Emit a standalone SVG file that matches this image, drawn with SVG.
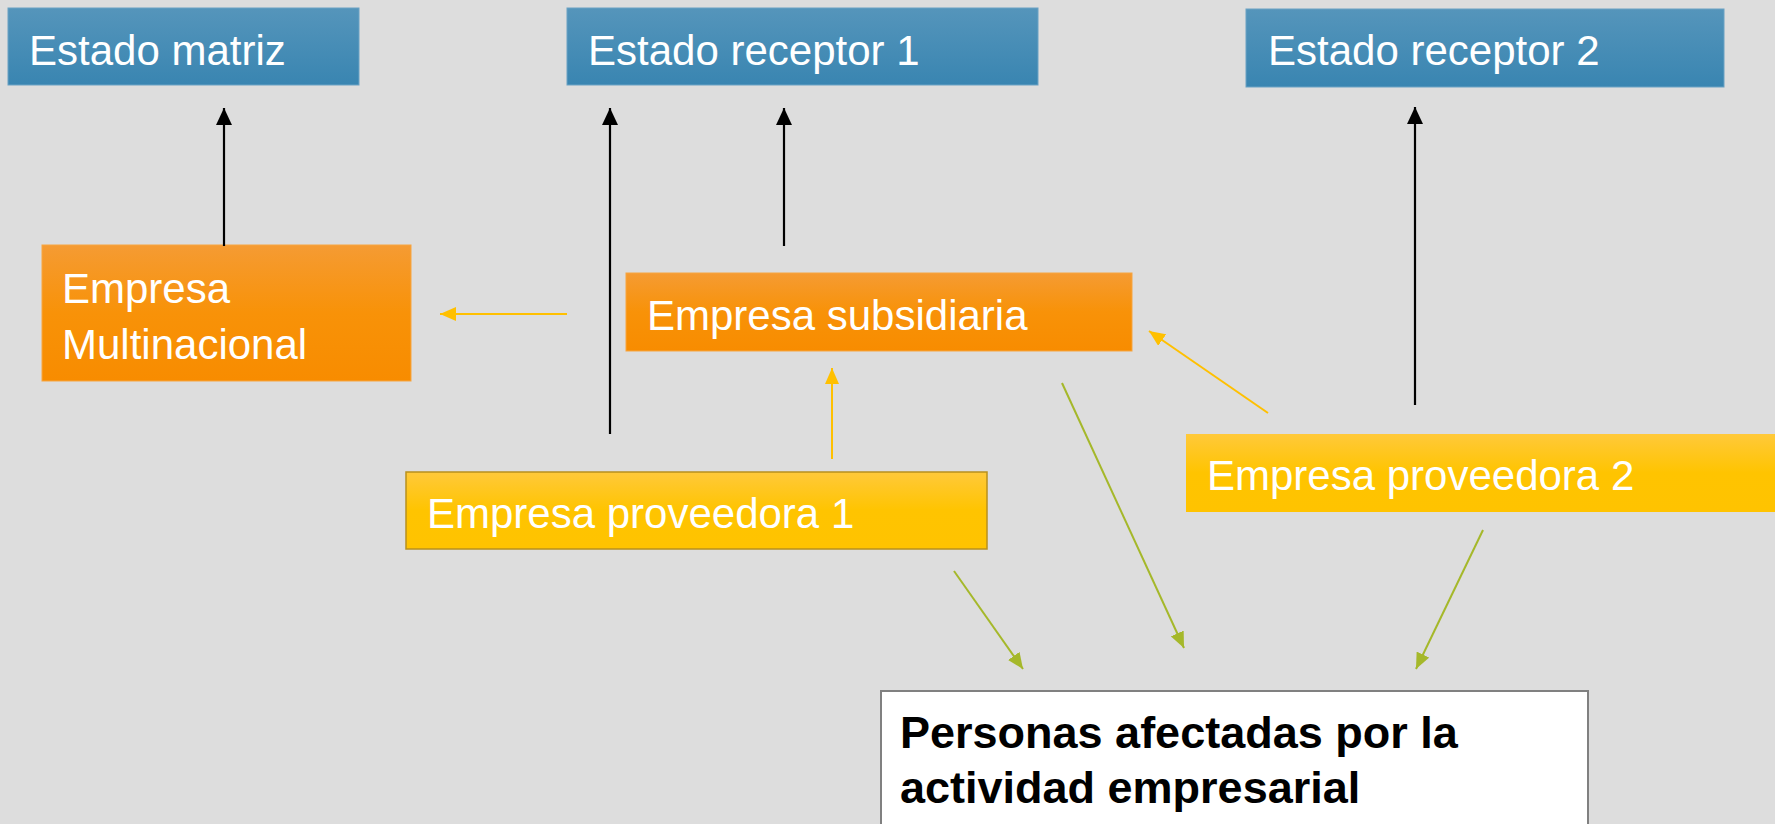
<svg xmlns="http://www.w3.org/2000/svg" width="1775" height="824" viewBox="0 0 1775 824">
<style>
.t{font-family:"Liberation Sans",Arial,sans-serif;font-size:42px;fill:#ffffff}
.b{font-family:"Liberation Sans",Arial,sans-serif;font-size:45px;font-weight:bold;fill:#000000}
.k{stroke:#000000;stroke-width:2.2;fill:none}
.y{stroke:#ffc000;stroke-width:2;fill:none}
.g{stroke:#a5b82a;stroke-width:2;fill:none}
</style>
<defs>
<linearGradient id="gb" x1="0" y1="0" x2="0" y2="1"><stop offset="0" stop-color="#5595bb"/><stop offset="1" stop-color="#3985b1"/></linearGradient>
<linearGradient id="go" x1="0" y1="0" x2="0" y2="1"><stop offset="0" stop-color="#f59b33"/><stop offset="0.5" stop-color="#f89208"/><stop offset="1" stop-color="#f88c00"/></linearGradient>
<linearGradient id="gy" x1="0" y1="0" x2="0" y2="1"><stop offset="0" stop-color="#ffc93a"/><stop offset="0.5" stop-color="#ffc400"/><stop offset="1" stop-color="#ffc300"/></linearGradient>
<marker id="mk" markerUnits="userSpaceOnUse" markerWidth="17" markerHeight="16" refX="17" refY="8" orient="auto"><path d="M0,0 L17,8 L0,16 z" fill="#000000"/></marker>
<marker id="my" markerUnits="userSpaceOnUse" markerWidth="16" markerHeight="14" refX="16" refY="7" orient="auto"><path d="M0,0 L16,7 L0,14 z" fill="#ffc000"/></marker>
<marker id="mg" markerUnits="userSpaceOnUse" markerWidth="16" markerHeight="14" refX="16" refY="7" orient="auto"><path d="M0,0 L16,7 L0,14 z" fill="#a5b82a"/></marker>
</defs>
<rect x="0" y="0" width="1775" height="824" fill="#dddddd"/>
<g id="estado-matriz"><rect x="8" y="8" width="351" height="77" fill="url(#gb)" stroke="#6aa2c4" stroke-width="1"/><text class="t" x="29" y="65">Estado matriz</text></g>
<g id="estado-receptor-1"><rect x="567" y="8" width="471" height="77" fill="url(#gb)" stroke="#6aa2c4" stroke-width="1"/><text class="t" x="588" y="65">Estado receptor 1</text></g>
<g id="estado-receptor-2"><rect x="1246" y="9" width="478" height="78" fill="url(#gb)" stroke="#6aa2c4" stroke-width="1"/><text class="t" x="1268" y="65">Estado receptor 2</text></g>
<g id="empresa-multinacional"><rect x="42" y="245" width="369" height="136" fill="url(#go)" stroke="#f7a540" stroke-width="1"/><text class="t" x="62" y="303">Empresa</text><text class="t" x="62" y="359">Multinacional</text></g>
<g id="empresa-subsidiaria"><rect x="626" y="273" width="506" height="78" fill="url(#go)" stroke="#f7a540" stroke-width="1"/><text class="t" x="647" y="330">Empresa subsidiaria</text></g>
<g id="empresa-proveedora-1"><rect x="406" y="472" width="581" height="77" fill="url(#gy)" stroke="#b8901e" stroke-width="1.5"/><text class="t" x="427" y="528">Empresa proveedora 1</text></g>
<g id="empresa-proveedora-2"><rect x="1186" y="434" width="600" height="78" fill="url(#gy)"/><text class="t" x="1207" y="490">Empresa proveedora 2</text></g>
<g id="personas"><rect x="881" y="691" width="707" height="150" fill="#ffffff" stroke="#808080" stroke-width="2"/><text class="b" x="900" y="748">Personas afectadas por la</text><text class="b" x="900" y="803">actividad empresarial</text></g>
<g id="connectors">
<line class="k" x1="224" y1="246" x2="224" y2="108" marker-end="url(#mk)"/>
<line class="k" x1="610" y1="434" x2="610" y2="108" marker-end="url(#mk)"/>
<line class="k" x1="784" y1="246" x2="784" y2="108" marker-end="url(#mk)"/>
<line class="k" x1="1415" y1="405" x2="1415" y2="107" marker-end="url(#mk)"/>
<line class="y" x1="567" y1="314" x2="440" y2="314" marker-end="url(#my)"/>
<line class="y" x1="832" y1="459" x2="832" y2="368" marker-end="url(#my)"/>
<line class="y" x1="1268" y1="413" x2="1149" y2="331" marker-end="url(#my)"/>
<line class="g" x1="954" y1="571" x2="1023" y2="669" marker-end="url(#mg)"/>
<line class="g" x1="1062" y1="383" x2="1184" y2="648" marker-end="url(#mg)"/>
<line class="g" x1="1483" y1="530" x2="1416" y2="669" marker-end="url(#mg)"/>
</g>
</svg>
